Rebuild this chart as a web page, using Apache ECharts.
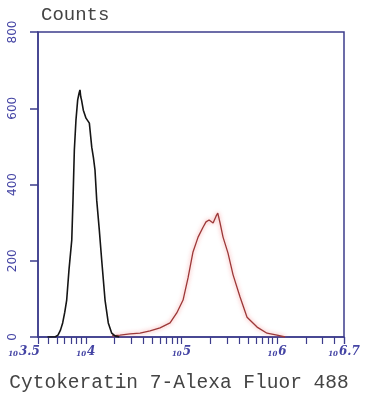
<!DOCTYPE html>
<html>
<head>
<meta charset="utf-8">
<script src="https://cdn.jsdelivr.net/npm/echarts@6/dist/echarts.min.js"></script>
<style>html,body{margin:0;padding:0;background:#fff}#c{width:368px;height:400px}</style>
</head>
<body>
<div id="c"></div>
<script>
// x values are log10 of fluorescence intensity
const blackLog = [3.60, 3.678, 3.709, 3.735, 3.758, 3.780, 3.800, 3.824, 3.853, 3.866, 3.880, 3.897, 3.915, 3.930, 3.939, 3.947, 3.955, 3.974, 4.002, 4.037, 4.062, 4.080, 4.096, 4.114, 4.141, 4.166, 4.201, 4.235, 4.271, 4.305, 4.35];
const blackCounts = [0, 0, 5, 18, 37, 65, 97, 176, 254, 359, 490, 569, 622, 640, 648, 630, 622, 595, 574, 561, 498, 470, 438, 359, 281, 202, 97, 37, 10, 3, 0];
const redLog = [4.274, 4.358, 4.462, 4.567, 4.672, 4.776, 4.881, 4.951, 5.017, 5.069, 5.121, 5.174, 5.226, 5.257, 5.289, 5.331, 5.362, 5.380, 5.404, 5.435, 5.487, 5.540, 5.613, 5.686, 5.791, 5.895, 6.000, 6.084];
const redCounts = [3, 5, 8, 10, 16, 24, 37, 63, 97, 155, 223, 262, 288, 302, 307, 299, 317, 325, 299, 262, 220, 163, 105, 52, 26, 10, 5, 0];
const xLabelValues = [3.5, 4, 5, 6, 6.7];
const xLabelTexts = ['3.5', '4', '5', '6', '6.7'];
const yTicks = [0, 200, 400, 600, 800];

const minorTicks = [];
for (let d = 3; d <= 6; d++) {
  for (let k = 1; k <= 9; k++) {
    const v = Math.log10(k * Math.pow(10, d));
    if (v >= 3.5 - 1e-9 && v <= 6.7 + 1e-9) minorTicks.push(v);
  }
}
minorTicks.push(3.5, 6.7);

const axisColor = '#3c3c8c';
const labelColor = '#4444a4';
const chart = echarts.init(document.getElementById('c'));
chart.setOption({
  backgroundColor: '#fff',
  animation: false,
  title: {
    text: 'Counts', left: 36, top: 0,
    textStyle: { fontFamily: 'Liberation Mono', fontSize: 19, fontWeight: 'normal', color: '#444' }
  },
  grid: { left: 38, right: 24, top: 32, bottom: 63, show: true, borderColor: axisColor, borderWidth: 1.5 },
  xAxis: {
    type: 'value', min: 3.5, max: 6.7,
    name: 'Cytokeratin 7-Alexa Fluor 488', nameLocation: 'middle', nameGap: 36,
    nameTextStyle: { fontFamily: 'Liberation Mono', fontSize: 19.5, color: '#444', padding: [0, 24, 0, 0] },
    axisLine: { lineStyle: { color: axisColor, width: 1.5 } },
    axisTick: { show: true, customValues: minorTicks, length: 7, lineStyle: { color: axisColor, width: 1.2 } },
    splitLine: { show: false },
    axisLabel: {
      customValues: xLabelValues, margin: 9,
      formatter: function (v) {
        let i = xLabelValues.findIndex(function (x) { return Math.abs(x - v) < 1e-6; });
        const t = i >= 0 ? xLabelTexts[i] : '';
        return '{b|10}{e|' + t + '}' + (i === 0 ? '{g|}' : '');
      },
      rich: {
        b: { fontSize: 7, fontFamily: 'DejaVu Serif', fontStyle: 'italic', fontWeight: 'bold', color: labelColor, verticalAlign: 'bottom', padding: [0, 1, 0, 0] },
        e: { fontSize: 12, fontFamily: 'DejaVu Serif', fontStyle: 'italic', fontWeight: 'bold', color: labelColor, verticalAlign: 'bottom' },
        g: { width: 28 }
      }
    }
  },
  yAxis: {
    type: 'value', min: 0, max: 800, interval: 200,
    axisLine: { show: true, lineStyle: { color: axisColor, width: 1.5 } },
    axisTick: { show: true, length: 8, lineStyle: { color: axisColor, width: 1.5 } },
    splitLine: { show: false },
    axisLabel: { rotate: 90, margin: 19, fontSize: 12, fontFamily: 'DejaVu Sans', color: labelColor }
  },
  series: [
    {
      type: 'line', showSymbol: false, z: 3,
      data: blackLog.map(function (x, i) { return [x, blackCounts[i]]; }),
      lineStyle: { color: '#151515', width: 1.6 }
    },
    {
      type: 'line', showSymbol: false, z: 2,
      data: redLog.map(function (x, i) { return [x, redCounts[i]]; }),
      lineStyle: { color: '#9c3838', width: 1.3, shadowColor: 'rgba(240,110,110,0.8)', shadowBlur: 4 }
    }
  ]
});
</script>
</body>
</html>
